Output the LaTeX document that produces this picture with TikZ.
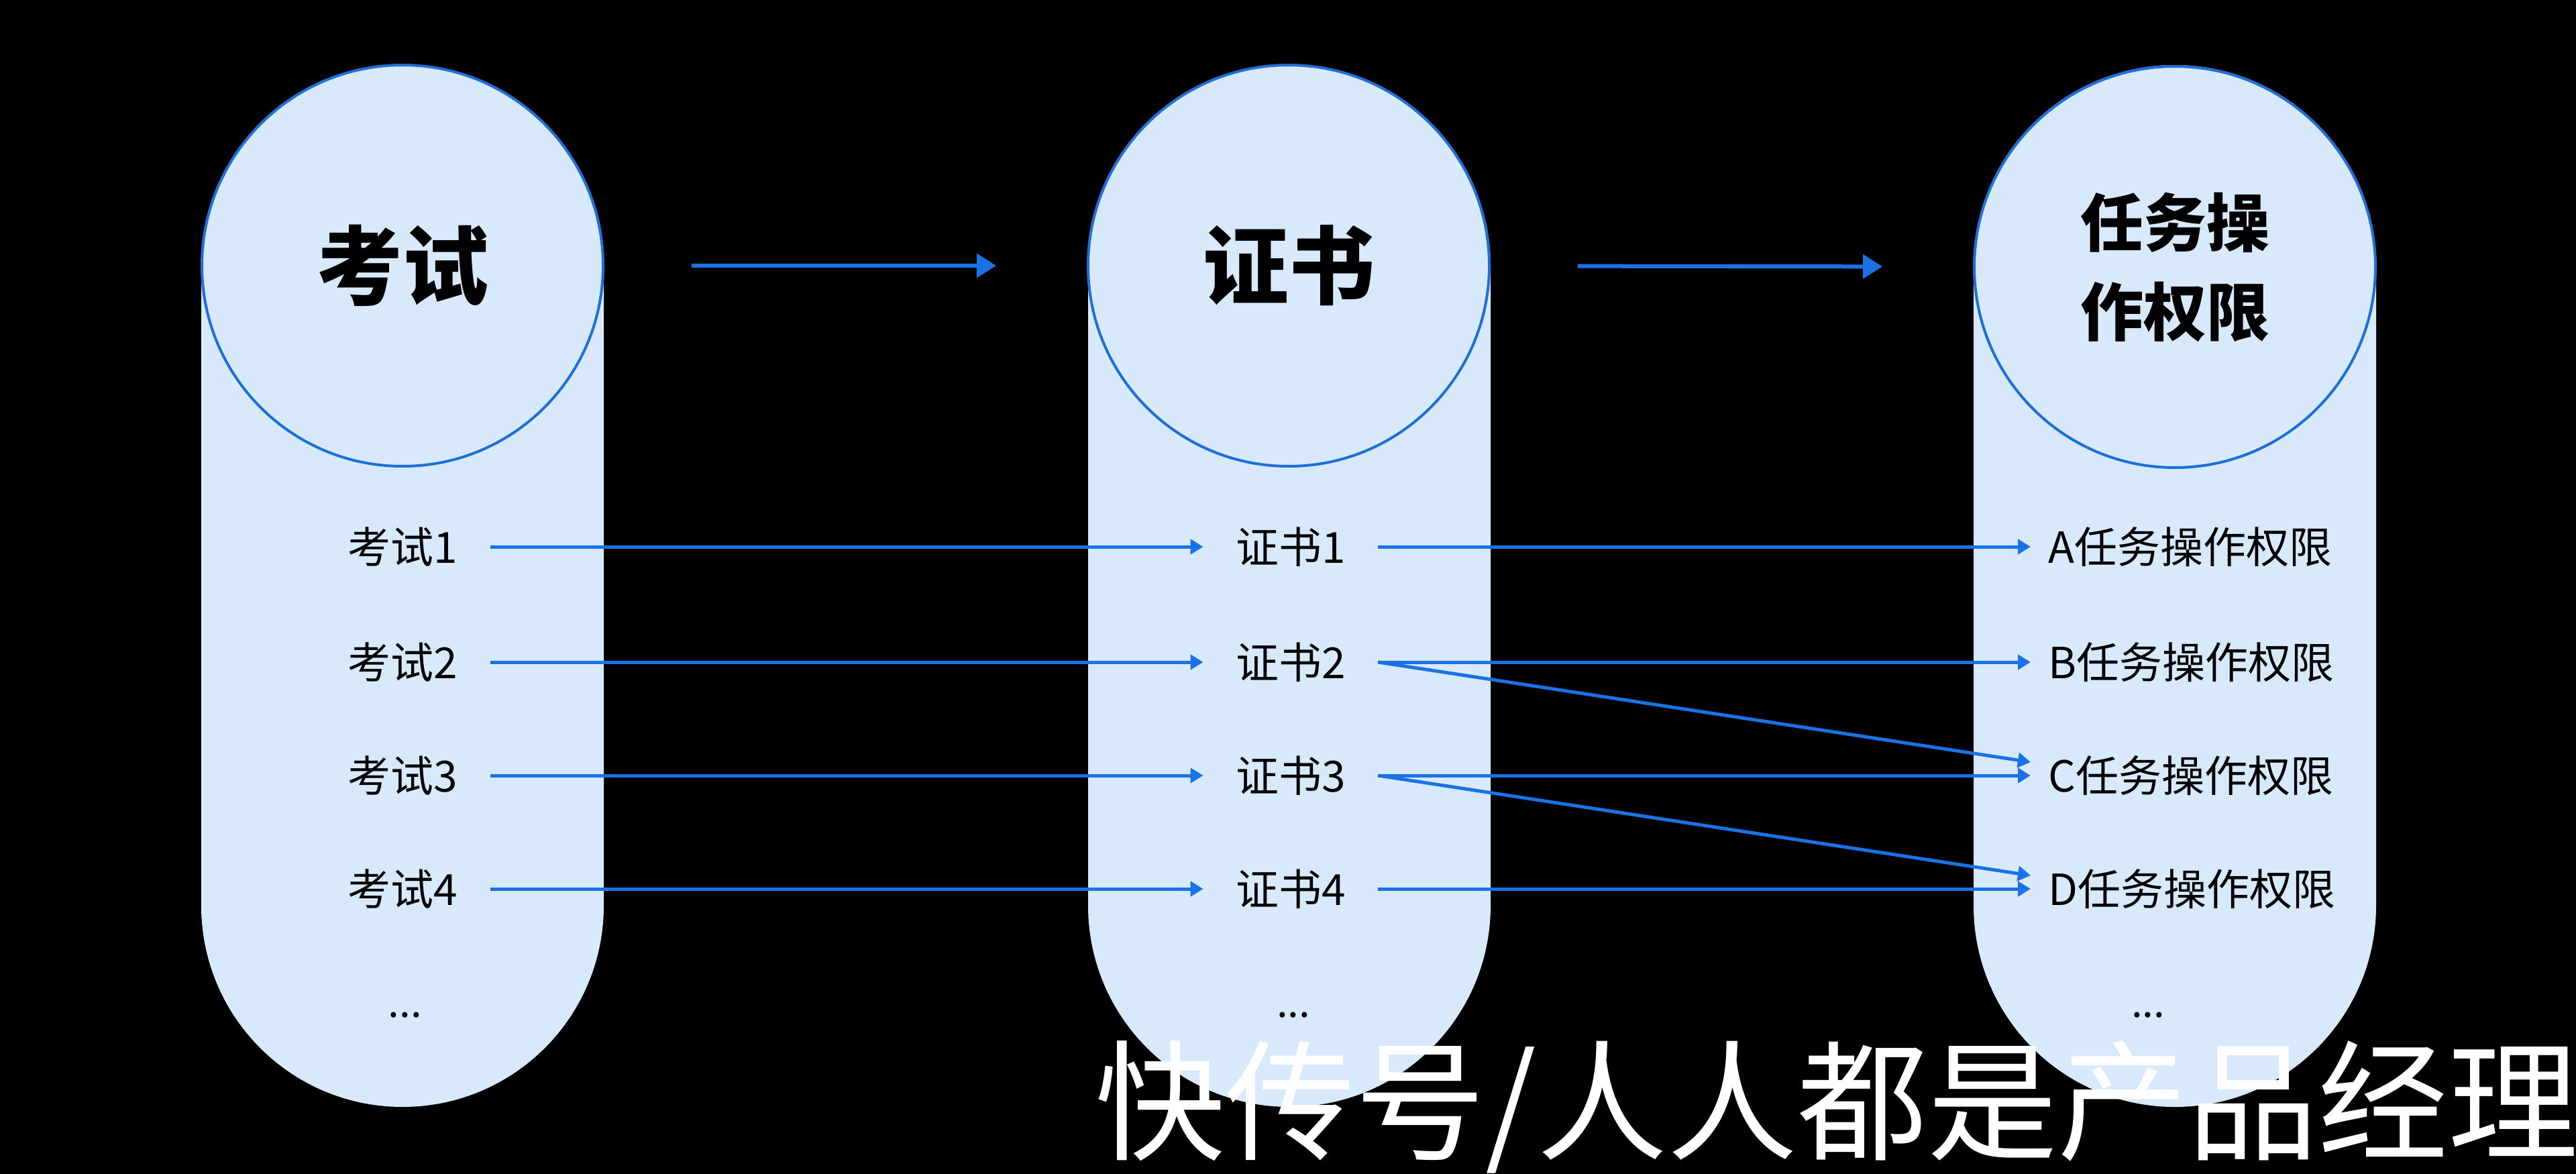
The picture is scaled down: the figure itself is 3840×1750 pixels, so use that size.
\documentclass[tikz,border=0pt]{standalone}
\usepackage{fontspec}
\setmainfont{Noto Sans CJK SC}
\usetikzlibrary{arrows.meta}
\definecolor{pillfill}{HTML}{D7E9FB}
\definecolor{ringblue}{HTML}{1F6FD8}
\definecolor{arrowblue}{HTML}{1A72E6}
\begin{document}
\begin{tikzpicture}[x=0.5pt,y=-0.5pt,
  pill/.style={fill=pillfill},
  headnode/.style={circle, draw=ringblue, line width=2pt, fill=pillfill,
    minimum size=299pt, inner sep=0pt, align=center,
    font=\fontsize{64}{66}\selectfont\bfseries},
  headsmall/.style={font=\fontsize{47}{66.5}\selectfont\bfseries},
  labA/.style={inner sep=0pt, minimum width=131pt, minimum height=30pt,
    font=\fontsize{32}{36}\selectfont},
  labB/.style={inner sep=0pt, minimum width=130pt, minimum height=30pt,
    font=\fontsize{32}{36}\selectfont},
  labC/.style={anchor=west, inner xsep=13pt, inner ysep=0pt, minimum height=30pt,
    font=\fontsize{32}{36}\selectfont},
  dotsnode/.style={inner sep=0pt, font=\fontsize{30}{36}\selectfont},
  link/.style={draw=arrowblue, line width=2.5pt, -{Triangle[length=9.5pt,width=11pt]}},
  bigarrow/.style={draw=arrowblue, line width=3pt, -{Triangle[length=14.5pt,width=17.5pt]}},
  wmark/.style={text=white, inner sep=0pt, font=\fontsize{97}{100}\selectfont}
]
\fill[black] (0,0) rectangle (3840,1750);
\useasboundingbox (0,0) rectangle (3840,1750);

% pills
\fill[pill, rounded corners=150pt] (300,97) rectangle (900,1650);
\fill[pill, rounded corners=150pt] (1622,97) rectangle (2222,1650);
\fill[pill, rounded corners=150pt] (2942,97) rectangle (3542,1650);

% head circles
\node[headnode] (h1) at (600,396) {考试};
\node[headnode] (h2) at (1921,396) {证书};
\node[headnode, headsmall] (h3) at (3242,398) {任务操\\作权限};

\draw[bigarrow, shorten <=65pt, shorten >=67.5pt] (h1) -- (h2);
\draw[bigarrow, shorten <=65pt, shorten >=67.5pt] (h2) -- (h3);

% column 1
\node[labA] (e1) at (600,815) {考试1};
\node[labA] (e2) at (600,987) {考试2};
\node[labA] (e3) at (600,1156) {考试3};
\node[labA] (e4) at (600,1325) {考试4};
\node[dotsnode] (ed) at (604,1513) {...};

% column 2
\node[labB] (c1) at (1924,815) {证书1};
\node[labB] (c2) at (1924,987) {证书2};
\node[labB] (c3) at (1924,1156) {证书3};
\node[labB] (c4) at (1924,1325) {证书4};
\node[dotsnode] (cd) at (1928,1513) {...};

% column 3
\node[labC] (p1) at (3027,815) {A任务操作权限};
\node[labC] (p2) at (3027,987) {B任务操作权限};
\node[labC] (p3) at (3027,1156) {C任务操作权限};
\node[labC] (p4) at (3027,1325) {D任务操作权限};
\node[dotsnode] (pd) at (3202,1513) {...};

% links
\draw[link] (e1.east) -- (c1.west);
\draw[link] (e2.east) -- (c2.west);
\draw[link] (e3.east) -- (c3.west);
\draw[link] (e4.east) -- (c4.west);

\draw[link] (c1.east) -- (p1.west);
\draw[link] (c2.east) -- (p2.west);
\draw[link] (c3.east) -- (p3.west);
\draw[link] (c4.east) -- (p4.west);
\draw[link] (c2.east) -- ([yshift=10pt]p3.west);
\draw[link] (c3.east) -- ([yshift=10pt]p4.west);

% watermark
\node[wmark] (wm) at (2738,1650) {快传号/人人都是产品经理};
\end{tikzpicture}
\end{document}
